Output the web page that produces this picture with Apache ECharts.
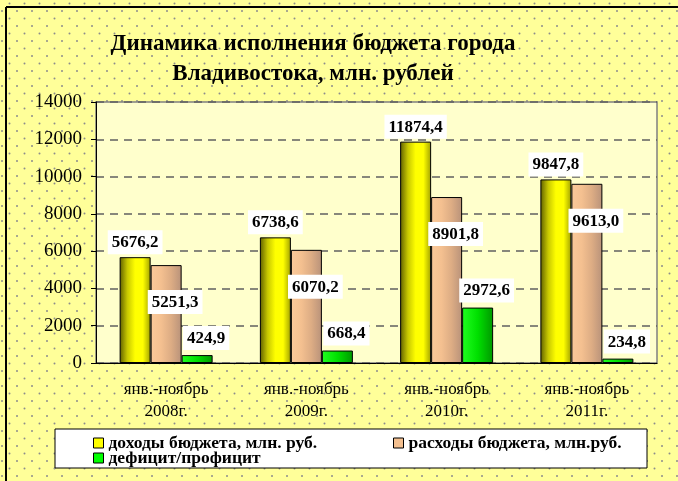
<!DOCTYPE html>
<html>
<head>
<meta charset="utf-8">
<script src="https://cdn.jsdelivr.net/npm/echarts@6/dist/echarts.min.js"></script>
<style>
  html, body { margin: 0; padding: 0; }
  #chart { width: 678px; height: 481px; }
</style>
</head>
<body>
<div id="chart"></div>
<script>
const periods = ['янв.-ноябрь\n2008г.', 'янв.-ноябрь\n2009г.', 'янв.-ноябрь\n2010г.', 'янв.-ноябрь\n2011г.'];
const income = [5676.2, 6738.6, 11874.4, 9847.8];
const expenses = [5251.3, 6070.2, 8901.8, 9613.0];
const surplus = [424.9, 668.4, 2972.6, 234.8];
const seriesNames = ['доходы бюджета, млн. руб.', 'расходы бюджета, млн.руб.', 'дефицит/профицит'];

const serif = 'Liberation Serif';

// dotted yellow background
const tile = document.createElement('canvas');
tile.width = 15;
tile.height = 15;
const tctx = tile.getContext('2d');
tctx.fillStyle = '#FFFF99';
tctx.fillRect(0, 0, 15, 15);
tctx.fillStyle = '#8c8c8c';
[[2, 11], [9.5, 3.5]].forEach(p => {
  tctx.beginPath();
  tctx.arc(p[0], p[1], 1, 0, Math.PI * 2);
  tctx.fill();
});

const fmt = p => p.value.toFixed(1).replace('.', ',');

const labelBase = {
  show: true,
  formatter: fmt,
  fontFamily: serif,
  fontWeight: 'bold',
  fontSize: 17,
  color: '#000',
  backgroundColor: '#fff',
  padding: [4, 4, 3, 4]
};

const legendText = { fontFamily: serif, fontWeight: 'bold', fontSize: 17.5, color: '#000' };

const grad = stops => new echarts.graphic.LinearGradient(0, 0, 1, 0,
  stops.map((c, i) => ({ offset: i / (stops.length - 1), color: c })));

const chart = echarts.init(document.getElementById('chart'));
chart.setOption({
  backgroundColor: { image: tile, repeat: 'repeat' },
  animation: false,
  textStyle: { fontFamily: serif },
  title: {
    text: 'Динамика исполнения бюджета города\nВладивостока, млн. рублей',
    left: 308,
    top: 24,
    textAlign: 'center',
    textStyle: { fontFamily: serif, fontWeight: 'bold', fontSize: 23, lineHeight: 30, color: '#000' }
  },
  graphic: [
    { type: 'rect', shape: { x: 55, y: 429, width: 592, height: 39 },
      style: { fill: '#fff', stroke: '#000', lineWidth: 1 } },
    { type: 'line', shape: { x1: 6, y1: 7, x2: 678, y2: 7 }, style: { stroke: '#000', lineWidth: 2 } },
    { type: 'line', shape: { x1: 6, y1: 7, x2: 6, y2: 481 }, style: { stroke: '#000', lineWidth: 2 } }
  ],
  legend: [
    {
      data: [
        { name: seriesNames[0], itemStyle: { color: '#FFFF00' } },
        { name: seriesNames[2], itemStyle: { color: '#00FF00' } }
      ],
      orient: 'vertical',
      left: 93, top: 434, padding: 0, itemGap: -3,
      icon: 'rect', itemWidth: 10, itemHeight: 10,
      itemStyle: { borderColor: '#000', borderWidth: 1 },
      textStyle: legendText
    },
    {
      data: [{ name: seriesNames[1], itemStyle: { color: '#F4C090' } }],
      left: 393, top: 434, padding: 0,
      icon: 'rect', itemWidth: 10, itemHeight: 10,
      itemStyle: { borderColor: '#000', borderWidth: 1 },
      textStyle: legendText
    }
  ],
  grid: {
    left: 96, top: 102, right: 21, bottom: 118,
    show: true, backgroundColor: '#FFFFCC', borderColor: '#808080', borderWidth: 1.5
  },
  xAxis: {
    type: 'category',
    data: periods,
    axisLine: { lineStyle: { color: '#000', width: 1 } },
    axisTick: { length: 5, lineStyle: { color: '#000' } },
    axisLabel: { fontFamily: serif, fontSize: 17, lineHeight: 22, color: '#000', margin: 16 }
  },
  yAxis: {
    type: 'value',
    min: 0, max: 14000, interval: 2000,
    axisLine: { show: true, lineStyle: { color: '#000', width: 1 } },
    axisTick: { show: true, length: 5, lineStyle: { color: '#000' } },
    axisLabel: { fontFamily: serif, fontSize: 19, color: '#000', margin: 14, formatter: v => String(v) },
    splitLine: { lineStyle: { color: '#606060', width: 1.5, type: [8, 6] } }
  },
  series: [
    {
      name: seriesNames[0], type: 'bar', data: income,
      barWidth: 31, barGap: '0%',
      itemStyle: { color: grad(['#5E5E00', '#C8C800', '#FFFF00', '#FFFF00', '#A0A000']), borderColor: '#000', borderWidth: 1 },
      label: Object.assign({}, labelBase, { position: 'top', distance: 3 })
    },
    {
      name: seriesNames[1], type: 'bar', data: expenses,
      barWidth: 31,
      itemStyle: { color: grad(['#FAC99A', '#F4C090', '#DCAC84', '#B8927A']), borderColor: '#000', borderWidth: 1 },
      label: Object.assign({}, labelBase, { position: 'insideTop', distance: 5, offset: [9, 20] })
    },
    {
      name: seriesNames[2], type: 'bar', data: surplus,
      barWidth: 31,
      itemStyle: { color: grad(['#20FF20', '#00E000', '#009800']), borderColor: '#000', borderWidth: 1 },
      label: Object.assign({}, labelBase, { position: 'top', distance: 5, offset: [9, 0] })
    }
  ]
});
</script>
</body>
</html>
